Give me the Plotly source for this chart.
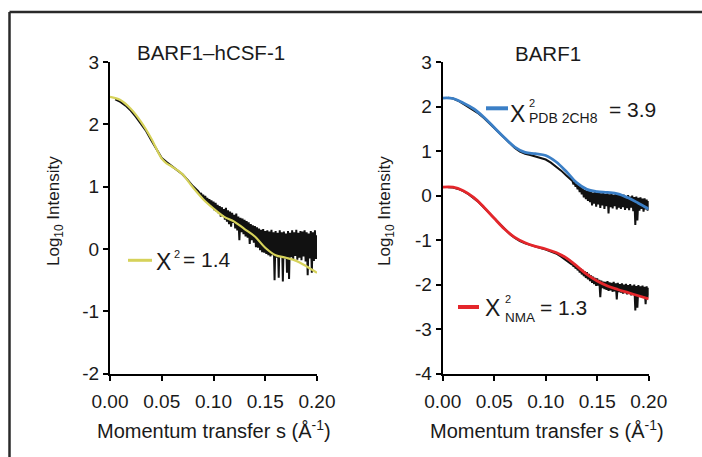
import numpy as np
import plotly.graph_objects as go

W, H = 702, 457
FONT = "Liberation Sans, Arial, Helvetica, sans-serif"

# ---------------- data ----------------
# momentum transfer grid for the fitted curves (1/Angstrom)
s_fit = [0.00, 0.01, 0.02, 0.03, 0.04, 0.05, 0.055, 0.06, 0.07, 0.08, 0.09, 0.10,
         0.11, 0.12, 0.13, 0.14, 0.15, 0.16, 0.17, 0.18, 0.19, 0.20]

# BARF1-hCSF-1 complex: model fit (chi^2 = 1.4)
complex_fit = [2.44, 2.39, 2.25, 2.04, 1.77, 1.45, 1.37, 1.32, 1.20, 0.99, 0.80, 0.65,
               0.52, 0.44, 0.32, 0.20, 0.02, -0.10, -0.14, -0.19, -0.28, -0.38]

# BARF1: crystal structure fit (PDB 2CH8) and normal-mode fit (NMA)
s_fit_r = [0.00, 0.01, 0.02, 0.03, 0.04, 0.05, 0.06, 0.07, 0.08, 0.09, 0.10,
           0.11, 0.12, 0.13, 0.14, 0.15, 0.16, 0.17, 0.18, 0.19, 0.20]
pdb_fit = [2.19, 2.18, 2.08, 1.95, 1.76, 1.53, 1.30, 1.09, 0.97, 0.94, 0.90,
           0.76, 0.54, 0.29, 0.14, 0.09, 0.07, 0.04, -0.05, -0.17, -0.30]
nma_fit = [0.19, 0.19, 0.11, -0.04, -0.26, -0.51, -0.75, -0.94, -1.06, -1.14, -1.20,
           -1.28, -1.40, -1.58, -1.77, -1.92, -2.03, -2.11, -2.18, -2.25, -2.32]

# measured curves, low-s part (sampled every 0.005)
s_low_l = [0.005, 0.010, 0.015, 0.020, 0.025, 0.030, 0.035, 0.040, 0.045, 0.050,
           0.055, 0.060, 0.065, 0.070, 0.075, 0.080, 0.085]
complex_low = [2.40, 2.36, 2.30, 2.22, 2.12, 2.01, 1.89, 1.74, 1.59, 1.46,
               1.39, 1.33, 1.27, 1.20, 1.11, 1.01, 0.93]

s_low_r = [0.005, 0.010, 0.015, 0.020, 0.025, 0.030, 0.035, 0.040, 0.045, 0.050,
           0.055, 0.060, 0.065, 0.070, 0.075, 0.080, 0.085, 0.090, 0.095, 0.100,
           0.105, 0.110, 0.115, 0.120, 0.125]
barf1_low = [2.20, 2.18, 2.13, 2.06, 1.99, 1.92, 1.84, 1.74, 1.63, 1.51,
             1.40, 1.28, 1.17, 1.07, 0.99, 0.94, 0.91, 0.88, 0.85, 0.81,
             0.74, 0.66, 0.56, 0.45, 0.33]
barf1_low_shift = [0.19, 0.18, 0.15, 0.10, 0.03, -0.05, -0.15, -0.27, -0.39, -0.52,
                   -0.64, -0.76, -0.86, -0.95, -1.02, -1.07, -1.11, -1.15, -1.18, -1.21,
                   -1.25, -1.30, -1.37, -1.45, -1.54]

# measured curves, noisy high-s part (sampled every 0.001)
S_STEP = 0.001
S_HIGH_L = 0.086
complex_high = [
    0.91, 0.86, 0.90, 0.83, 0.87, 0.79, 0.85, 0.76, 0.82, 0.73,
    0.80, 0.70, 0.78, 0.66, 0.76, 0.62, 0.74, 0.60, 0.71, 0.57,
    0.69, 0.52, 0.67, 0.55, 0.64, 0.47, 0.66, 0.44, 0.62, 0.40,
    0.60, 0.36, 0.58, 0.42, 0.55, 0.33, 0.57, 0.30, 0.52, 0.14,
    0.50, 0.27, 0.49, 0.24, 0.47, 0.20, 0.45, 0.18, 0.43, 0.08,
    0.40, 0.14, 0.38, 0.10, 0.37, 0.03, 0.35, 0.02, 0.33, -0.02,
    0.31, -0.05, 0.32, -0.06, 0.29, -0.08, 0.30, -0.10, 0.28, -0.12,
    0.31, -0.10, 0.27, -0.50, 0.29, -0.14, 0.26, -0.46, 0.30, -0.12,
    0.27, -0.52, 0.28, -0.15, 0.25, -0.38, 0.29, -0.48, 0.26, -0.13,
    0.30, -0.16, 0.27, -0.11, 0.31, -0.17, 0.26, -0.14, 0.29, -0.18,
    0.28, -0.12, 0.30, -0.20, 0.27, -0.42, 0.25, -0.15, 0.29, -0.38,
    0.27, -0.19, 0.30, -0.16, 0.22]

S_HIGH_R = 0.126
barf1_high = [
    0.33, 0.25, 0.30, 0.20, 0.26, 0.14, 0.23, 0.08, 0.20, 0.03,
    0.16, -0.04, 0.13, -0.08, 0.11, -0.12, 0.10, -0.15, 0.08, -0.22,
    0.07, -0.18, 0.08, -0.25, 0.06, -0.20, 0.07, -0.28, 0.05, -0.22,
    0.06, -0.30, 0.04, -0.24, 0.05, -0.40, 0.03, -0.26, 0.04, -0.29,
    0.02, -0.24, 0.04, -0.31, 0.01, -0.27, 0.03, -0.30, 0.00, -0.26,
    0.02, -0.32, -0.01, -0.28, 0.01, -0.33, -0.02, -0.27, 0.00, -0.35,
    -0.03, -0.66, -0.02, -0.56, -0.05, -0.34, -0.04, -0.30, -0.07, -0.36,
    -0.06, -0.31, -0.09, -0.34, -0.12]
barf1_high_shift = [
    -1.52, -1.60, -1.55, -1.64, -1.57, -1.68, -1.61, -1.73, -1.64, -1.77,
    -1.67, -1.81, -1.70, -1.85, -1.72, -1.88, -1.76, -1.92, -1.79, -1.96,
    -1.82, -1.99, -1.85, -2.03, -1.86, -2.02, -1.89, -2.28, -1.91, -2.08,
    -1.93, -2.10, -1.94, -2.12, -1.92, -2.14, -1.95, -2.13, -1.96, -2.16,
    -1.94, -2.15, -1.97, -2.33, -1.96, -2.17, -1.99, -2.18, -1.97, -2.20,
    -2.00, -2.19, -1.98, -2.22, -2.01, -2.21, -1.99, -2.24, -2.02, -2.23,
    -2.00, -2.58, -2.03, -2.52, -2.01, -2.25, -2.04, -2.27, -2.02, -2.26,
    -2.05, -2.44, -2.04, -2.29, -2.07]

x_ticks = [0.00, 0.05, 0.10, 0.15, 0.20]
x_ticktext = ["0.00", "0.05", "0.10", "0.15", "0.20"]
y_ticks_l = [-2, -1, 0, 1, 2, 3]
y_ticks_r = [-4, -3, -2, -1, 0, 1, 2, 3]

COL_DATA = "#111111"
COL_YEL = "#d6d25a"
COL_BLUE = "#3b7fc6"
COL_RED = "#e4262b"


def grid(start, n):
    return list(np.round(start + S_STEP * np.arange(n), 4))


s_l = s_low_l + grid(S_HIGH_L, len(complex_high))
y_l = complex_low + complex_high
s_r = s_low_r + grid(S_HIGH_R, len(barf1_high))
y_r1 = barf1_low + barf1_high
y_r2 = barf1_low_shift + barf1_high_shift

# ---------------- figure ----------------
fig = go.Figure()

fig.add_trace(go.Scatter(x=s_l, y=y_l, mode="lines", line=dict(color=COL_DATA, width=2),
                         xaxis="x", yaxis="y", showlegend=False))
fig.add_trace(go.Scatter(x=s_fit, y=complex_fit, mode="lines", line=dict(color=COL_YEL, width=2.2, shape="spline"),
                         xaxis="x", yaxis="y", showlegend=False))

fig.add_trace(go.Scatter(x=s_r, y=y_r1, mode="lines", line=dict(color=COL_DATA, width=2),
                         xaxis="x2", yaxis="y2", showlegend=False))
fig.add_trace(go.Scatter(x=s_r, y=y_r2, mode="lines", line=dict(color=COL_DATA, width=2),
                         xaxis="x2", yaxis="y2", showlegend=False))
fig.add_trace(go.Scatter(x=s_fit_r, y=pdb_fit, mode="lines", line=dict(color=COL_BLUE, width=2.8, shape="spline"),
                         xaxis="x2", yaxis="y2", showlegend=False))
fig.add_trace(go.Scatter(x=s_fit_r, y=nma_fit, mode="lines", line=dict(color=COL_RED, width=2.8, shape="spline"),
                         xaxis="x2", yaxis="y2", showlegend=False))


def px(x):
    return x / W


def py(y):
    return 1 - y / H


ydom = [py(373.7), py(62)]
axis_common = dict(showline=True, linecolor="black", linewidth=2, ticks="outside", ticklen=5,
                   tickwidth=2, tickcolor="black", showgrid=False, zeroline=False, automargin=False,
                   tickfont=dict(family=FONT, size=19, color="#1a1a1a"))

fig.update_layout(
    width=W, height=H,
    margin=dict(l=0, r=0, t=0, b=0, pad=0, autoexpand=False),
    paper_bgcolor="white", plot_bgcolor="white",
    xaxis=dict(domain=[px(110), px(317)], range=[0, 0.2], anchor="y", ticklabelstandoff=4,
               tickvals=x_ticks, ticktext=x_ticktext, **axis_common),
    yaxis=dict(domain=ydom, range=[-2, 3], anchor="x",
               tickvals=y_ticks_l, ticktext=[str(v) for v in y_ticks_l], **axis_common),
    xaxis2=dict(domain=[px(442.7), px(648.7)], range=[0, 0.2], anchor="y2", ticklabelstandoff=4,
                tickvals=x_ticks, ticktext=x_ticktext, **axis_common),
    yaxis2=dict(domain=ydom, range=[-4, 3], anchor="x2",
                tickvals=y_ticks_r, ticktext=[str(v) for v in y_ticks_r], **axis_common),
)

ann = []


def text(x, y, s, size, anchor="left", color="#1a1a1a", angle=0):
    ann.append(dict(xref="paper", yref="paper", x=px(x), y=py(y), text=s, showarrow=False,
                    xanchor=anchor, yanchor="middle", textangle=angle, borderpad=0,
                    font=dict(family=FONT, size=size, color=color)))


# panel titles
text(211, 52, "BARF1–hCSF-1", 20.5, "center")
text(548, 53, "BARF1", 20.5, "center")

# axis titles
for xc in (213.5, 546.5):
    text(xc, 429, "Momentum transfer s (Å<sup>-1</sup>)", 20, "center")
text(55, 211, "Log<sub>10</sub> Intensity", 17, "center", angle=-90)
text(386, 211, "Log<sub>10</sub> Intensity", 17, "center", angle=-90)

# fit labels
text(155, 262, "Χ", 23)
text(172.5, 254, "2", 11)
text(182, 259, "= 1.4", 21)

text(509, 114, "Χ", 23)
text(528, 103, "2", 11)
text(527.5, 117.5, "PDB 2CH8", 14)
text(608, 109.5, "= 3.9", 21)

text(484, 308, "Χ", 23)
text(504, 299, "2", 11)
text(503.5, 317.5, "NMA", 13.5)
text(539, 307.5, "= 1.3", 21)

shapes = [
    # label swatches
    dict(type="line", xref="paper", yref="paper", x0=px(128), x1=px(152), y0=py(260.3), y1=py(260.3),
         line=dict(color=COL_YEL, width=3)),
    dict(type="line", xref="paper", yref="paper", x0=px(486), x1=px(508), y0=py(108.3), y1=py(108.3),
         line=dict(color=COL_BLUE, width=4)),
    dict(type="line", xref="paper", yref="paper", x0=px(458), x1=px(479), y0=py(307), y1=py(307),
         line=dict(color=COL_RED, width=4)),
    # frame
    dict(type="line", xref="paper", yref="paper", x0=px(9.5), x1=px(9.5), y0=0, y1=py(12),
         line=dict(color="#2a2a2a", width=2.5)),
    dict(type="line", xref="paper", yref="paper", x0=px(9.5), x1=1, y0=py(12), y1=py(12),
         line=dict(color="#2a2a2a", width=2.5)),
]

fig.update_layout(annotations=ann, shapes=shapes)
fig.write_html("out.html")
